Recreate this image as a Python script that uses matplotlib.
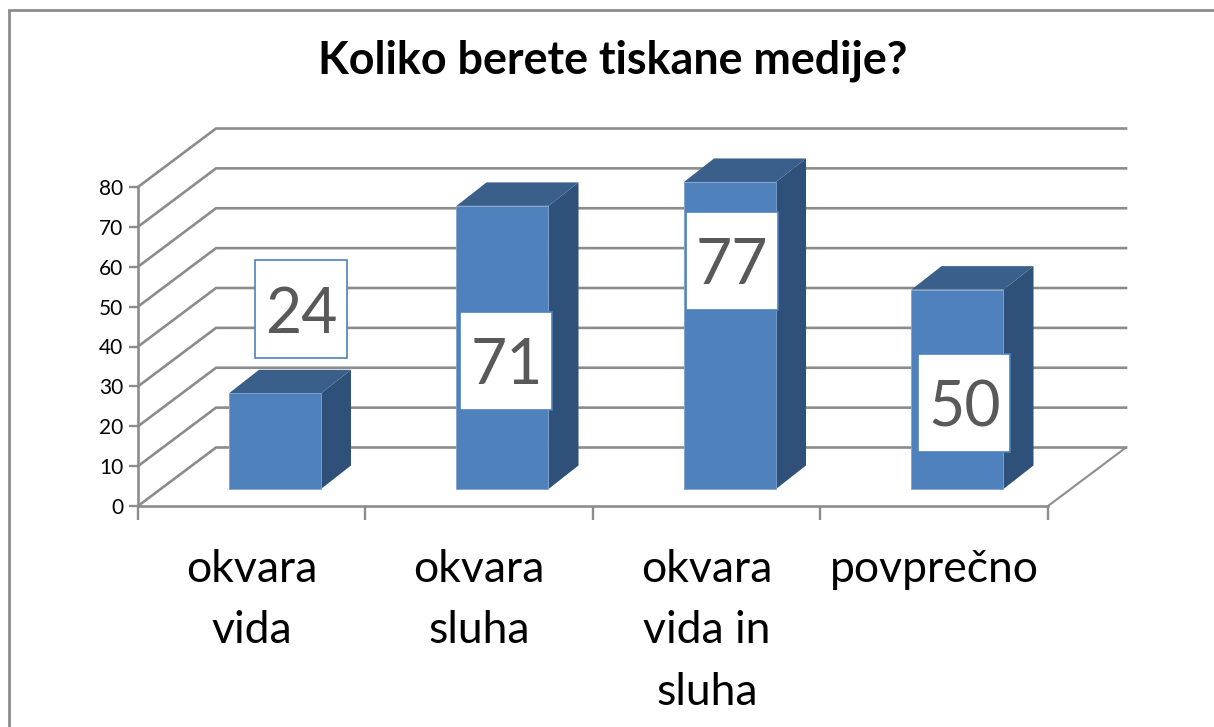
import matplotlib
matplotlib.use("Agg")
import matplotlib.pyplot as plt
from matplotlib.patches import Polygon, Rectangle

categories = ["okvara\nvida", "okvara\nsluha", "okvara\nvida in\nsluha", "povprečno"]
values = [24, 71, 77, 50]
y_ticks = [0, 10, 20, 30, 40, 50, 60, 70, 80]
title = "Koliko berete tiskane medije?"

W, H = 1214, 727
plt.rcParams["font.family"] = ["Lato", "DejaVu Sans"]

GRID = "#8C8C8C"
FRONT = "#4F81BD"
TOP = "#3A5F8B"
SIDE = "#2F5179"
LABEL = "#595959"

fig = plt.figure(figsize=(W / 100, H / 100), dpi=100)
fig.patch.set_facecolor("white")

# front plane of the 3d box, in pixels of the picture
left, right, y0, y80 = 138, 1048, 506, 187
ax = fig.add_axes([left / W, (H - y0) / H, (right - left) / W, (y0 - y80) / H])
ax.set_xlim(0, 4)
ax.set_ylim(0, 80)
ax.patch.set_alpha(0)

px_x = 4 / (right - left)
px_y = 80 / (y0 - y80)

# depth of the wall and of the bars
wall_dx, wall_dy = 78 * px_x, 58.5 * px_y
bar_off_x, bar_off_y = (229 - 138) * px_x, (506 - 489) * px_y
bar_w = 92 * px_x
bar_dx, bar_dy = 30 * px_x, 23.5 * px_y

for t in y_ticks:
    ax.plot([0, wall_dx, 4 + wall_dx], [t, t + wall_dy, t + wall_dy],
            color=GRID, lw=1.9, clip_on=False, zorder=1, solid_joinstyle="miter")
ax.plot([4, 4 + wall_dx], [0, wall_dy], color=GRID, lw=1.5, clip_on=False, zorder=1)

for i, v in enumerate(values):
    x0 = i + bar_off_x
    x1 = x0 + bar_w
    b = bar_off_y
    ax.add_patch(Polygon([(x1, b), (x1 + bar_dx, b + bar_dy), (x1 + bar_dx, v + b + bar_dy), (x1, v + b)],
                         closed=True, fc=SIDE, ec="none", clip_on=False, zorder=3))
    ax.add_patch(Polygon([(x0, v + b), (x1, v + b), (x1 + bar_dx, v + b + bar_dy), (x0 + bar_dx, v + b + bar_dy)],
                         closed=True, fc=TOP, ec="none", clip_on=False, zorder=3))
    ax.add_patch(Rectangle((x0, b), bar_w, v, fc=FRONT, ec="#7FA3CE", lw=0.6, clip_on=False, zorder=4))

# value labels, moved by hand in the original chart (pixels from the bar's top front corner)
label_shift_x = [26, 4, 2, 7]
label_drop = [-84, 155, 79, 113]
box_w, box_h = 92 * px_x, 98 * px_y
for i, v in enumerate(values):
    cx = i + bar_off_x + bar_w / 2 + label_shift_x[i] * px_x
    cy = bar_off_y + v - label_drop[i] * px_y
    ax.add_patch(Rectangle((cx - box_w / 2, cy - box_h / 2), box_w, box_h, fc="white", ec=FRONT,
                           lw=1.2, clip_on=False, zorder=5))
    ax.text(cx, cy, str(v), ha="center", va="center_baseline", fontsize=45, color=LABEL, zorder=6)

for s in ["top", "right"]:
    ax.spines[s].set_visible(False)
for s in ["left", "bottom"]:
    ax.spines[s].set_color(GRID)
    ax.spines[s].set_linewidth(1.9)
ax.set_yticks(y_ticks)
ax.set_xticks(range(5))
ax.set_xticklabels([])
ax.tick_params(axis="y", length=6.5, width=1.7, color=GRID, labelsize=15, pad=4, labelcolor="black")
ax.tick_params(axis="x", length=10, width=1.7, color=GRID)

for i, c in enumerate(categories):
    fig.text((left + (i + 0.5) * (right - left) / 4) / W, 1 - 549 / H, c, ha="center", va="top",
             fontsize=32, color="black", linespacing=1.62)

fig.text(613 / W, 1 - 61 / H, title, ha="center", va="center", fontsize=32.3, fontweight="bold", color="black")

# chart frame, cut off by the screenshot on the right and bottom
fig.add_artist(plt.Line2D([8.5 / W, 8.5 / W, 1], [0, 1 - 9.5 / H, 1 - 9.5 / H], color=GRID, lw=2.0,
                          solid_joinstyle="miter"))

fig.savefig("out.png", dpi=100)
